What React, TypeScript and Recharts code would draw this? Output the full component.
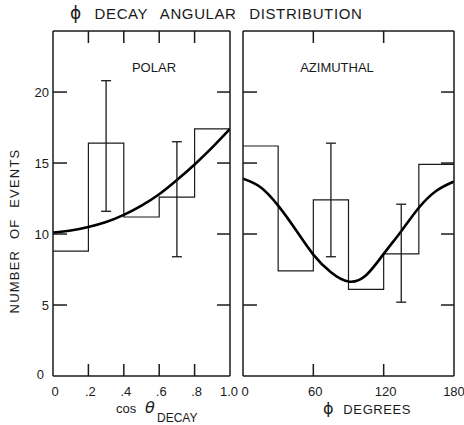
import React from 'react';
import { ComposedChart, Line, Scatter, ErrorBar, XAxis, YAxis } from 'recharts';

// polar (cos theta) histogram
const polarEdges = [0, 0.2, 0.4, 0.6, 0.8, 1.0];
const polarCounts = [8.8, 16.4, 11.2, 12.6, 17.4];
const polarFitX = [0, 0.1, 0.2, 0.3, 0.4, 0.5, 0.6, 0.7, 0.8, 0.9, 1.0];
const polarFitY = [10.1, 10.25, 10.5, 10.85, 11.35, 12.0, 12.8, 13.8, 14.9, 16.1, 17.4];
const polarErrX = [0.3, 0.7];
const polarErrLow = [11.6, 8.4];
const polarErrHigh = [20.8, 16.5];
const polarTicks = [0, 0.2, 0.4, 0.6, 0.8, 1.0];
const polarTickLabels = ['0', '.2', '.4', '.6', '.8', '1.0'];

// azimuthal (phi degrees) histogram
const azEdges = [0, 30, 60, 90, 120, 150, 180];
const azCounts = [16.2, 7.4, 12.4, 6.1, 8.6, 14.9];
const azFitX = [0, 15, 30, 45, 60, 75, 90, 105, 120, 135, 150, 165, 180];
const azFitY = [13.9, 13.3, 12.0, 10.3, 8.55, 7.3, 6.65, 7.1, 8.6, 10.2, 11.85, 13.05, 13.7];
const azErrX = [75, 135];
const azErrLow = [8.4, 5.2];
const azErrHigh = [16.4, 12.1];
const azTicks = [0, 60, 120, 180];
const azTickLabels = ['0', '60', '120', '180'];

const yTicks = [0, 5, 10, 15, 20];
const Y_MAX = 24.3;

const INK = '#1a1a1a';
const FONT = '"Liberation Sans", "DejaVu Sans", sans-serif';

const stepData = (edges: number[], counts: number[]) =>
  edges.map((x, i) => ({ x, y: counts[Math.min(i, counts.length - 1)] }));

const fitData = (xs: number[], ys: number[]) => xs.map((x, i) => ({ x, y: ys[i] }));

const errData = (xs: number[], lo: number[], hi: number[]) =>
  xs.map((x, i) => {
    const mid = (lo[i] + hi[i]) / 2;
    const half = (hi[i] - lo[i]) / 2;
    return { x, y: mid, err: [half, half] };
  });

// ticks point inward, labels sit outside
const BottomTick = ({ x, y, payload, domain, labels, ticks }: any) => {
  const v = payload.value;
  const inside = v > domain[0] && v < domain[1];
  const idx = ticks.indexOf(v);
  const label = labels[idx];
  let dx = 2;
  if (v === domain[1]) dx = idx === ticks.length - 1 && domain[1] === 1 ? -1 : 0;
  return (
    <g>
      {inside && <line x1={x} y1={y} x2={x} y2={y - 12} stroke={INK} strokeWidth={1.5} />}
      <text x={x + dx} y={y + 20} textAnchor="middle" fontSize={13} fontFamily={FONT} fill={INK}>
        {label}
      </text>
    </g>
  );
};

const TopTick = ({ x, y, payload, domain }: any) => {
  const v = payload.value;
  if (!(v > domain[0] && v < domain[1])) return <g />;
  return <line x1={x} y1={y} x2={x} y2={y + 12} stroke={INK} strokeWidth={1.5} />;
};

const LeftTick = ({ x, y, payload, showLabel }: any) => {
  const v = payload.value;
  return (
    <g>
      {v > 0 && <line x1={x} y1={y} x2={x + 14} y2={y} stroke={INK} strokeWidth={1.5} />}
      {showLabel && (
        <text
          x={v === 0 ? x - 9 : x - 4}
          y={v === 0 ? y + 3 : y + 4.5}
          textAnchor="end"
          fontSize={13}
          fontFamily={FONT}
          fill={INK}
        >
          {v}
        </text>
      )}
    </g>
  );
};

const RightTick = ({ x, y, payload }: any) => {
  if (payload.value <= 0) return <g />;
  return <line x1={x - 13} y1={y} x2={x} y2={y} stroke={INK} strokeWidth={1.5} />;
};

interface PanelProps {
  width: number;
  leftWidth: number;
  domain: [number, number];
  ticks: number[];
  labels: string[];
  innerTicks: number[];
  steps: { x: number; y: number }[];
  fit: { x: number; y: number }[];
  errs: { x: number; y: number; err: number[] }[];
  showYLabels: boolean;
}

const Panel = ({ width, leftWidth, domain, ticks, labels, innerTicks, steps, fit, errs, showYLabels }: PanelProps) => (
  <ComposedChart width={width} height={425} margin={{ top: 30, right: 0, bottom: 0, left: 0 }}>
    <XAxis
      xAxisId="b"
      dataKey="x"
      type="number"
      orientation="bottom"
      domain={domain}
      allowDataOverflow
      ticks={ticks}
      interval={0}
      height={49}
      tickSize={0}
      tickMargin={0}
      axisLine={{ stroke: INK, strokeWidth: 1.5 }}
      tickLine={false}
      tick={<BottomTick domain={domain} labels={labels} ticks={ticks} />}
    />
    <XAxis
      xAxisId="t"
      dataKey="x"
      type="number"
      orientation="top"
      domain={domain}
      allowDataOverflow
      ticks={innerTicks}
      interval={0}
      height={1}
      tickSize={0}
      tickMargin={0}
      axisLine={{ stroke: INK, strokeWidth: 1.5 }}
      tickLine={false}
      tick={<TopTick domain={domain} />}
    />
    <YAxis
      yAxisId="l"
      type="number"
      orientation="left"
      domain={[0, Y_MAX]}
      allowDataOverflow
      ticks={yTicks}
      interval={0}
      width={leftWidth}
      tickSize={0}
      tickMargin={0}
      axisLine={{ stroke: INK, strokeWidth: 1.5 }}
      tickLine={false}
      tick={<LeftTick showLabel={showYLabels} />}
    />
    <YAxis
      yAxisId="r"
      type="number"
      orientation="right"
      domain={[0, Y_MAX]}
      allowDataOverflow
      ticks={yTicks}
      interval={0}
      width={10}
      tickSize={0}
      tickMargin={0}
      axisLine={{ stroke: INK, strokeWidth: 1.5 }}
      tickLine={false}
      tick={<RightTick />}
    />
    <Line
      xAxisId="b"
      yAxisId="l"
      data={steps}
      dataKey="y"
      type="stepAfter"
      stroke={INK}
      strokeWidth={1.2}
      dot={false}
      isAnimationActive={false}
    />
    <Line
      xAxisId="b"
      yAxisId="l"
      data={fit}
      dataKey="y"
      type="natural"
      stroke="#000"
      strokeWidth={2.6}
      dot={false}
      isAnimationActive={false}
    />
    <Scatter
      xAxisId="b"
      yAxisId="l"
      data={errs}
      dataKey="y"
      shape={() => <g />}
      isAnimationActive={false}
    >
      <ErrorBar dataKey="err" direction="y" width={5} stroke={INK} strokeWidth={1.3} isAnimationActive={false} />
    </Scatter>
  </ComposedChart>
);

export default function App() {
  return (
    <div style={{ position: 'absolute', left: 0, top: 0, width: 464, height: 425, background: '#fff' }}>
      <div style={{ position: 'absolute', left: 0, top: 0 }}>
        <Panel
          width={240}
          leftWidth={53}
          domain={[0, 1]}
          ticks={polarTicks}
          labels={polarTickLabels}
          innerTicks={[0.2, 0.4, 0.6, 0.8]}
          steps={stepData(polarEdges, polarCounts)}
          fit={fitData(polarFitX, polarFitY)}
          errs={errData(polarErrX, polarErrLow, polarErrHigh)}
          showYLabels
        />
      </div>
      <div style={{ position: 'absolute', left: 235, top: 0 }}>
        <Panel
          width={229}
          leftWidth={8}
          domain={[0, 180]}
          ticks={azTicks}
          labels={azTickLabels}
          innerTicks={[60, 120]}
          steps={stepData(azEdges, azCounts)}
          fit={fitData(azFitX, azFitY)}
          errs={errData(azErrX, azErrLow, azErrHigh)}
          showYLabels={false}
        />
      </div>
      <svg
        width={464}
        height={425}
        style={{ position: 'absolute', left: 0, top: 0, pointerEvents: 'none' }}
        fontFamily={FONT}
        fill={INK}
      >
        <text x={70} y={19} fontSize={15} letterSpacing={0.6} wordSpacing={8}>
          <tspan fontFamily='"DejaVu Sans", sans-serif' fontSize={17}>ϕ</tspan> DECAY ANGULAR DISTRIBUTION
        </text>
        <text x={154} y={72} textAnchor="middle" fontSize={13}>POLAR</text>
        <text x={337} y={72} textAnchor="middle" fontSize={13}>AZIMUTHAL</text>
        <text
          x={19}
          y={231}
          textAnchor="middle"
          fontSize={13}
          letterSpacing={1.2}
          wordSpacing={6}
          transform="rotate(-90 19 231)"
        >
          NUMBER OF EVENTS
        </text>
        <text x={116} y={413} fontSize={13}>cos</text>
        <text x={145} y={413} fontSize={16} fontStyle="italic" fontFamily='"DejaVu Sans", sans-serif'>θ</text>
        <text x={157} y={422} fontSize={12}>DECAY</text>
        <text x={323} y={414} fontSize={13} letterSpacing={0.6} wordSpacing={5}>
          <tspan fontFamily='"DejaVu Sans", sans-serif' fontSize={16}>ϕ</tspan> DEGREES
        </text>
      </svg>
    </div>
  );
}
